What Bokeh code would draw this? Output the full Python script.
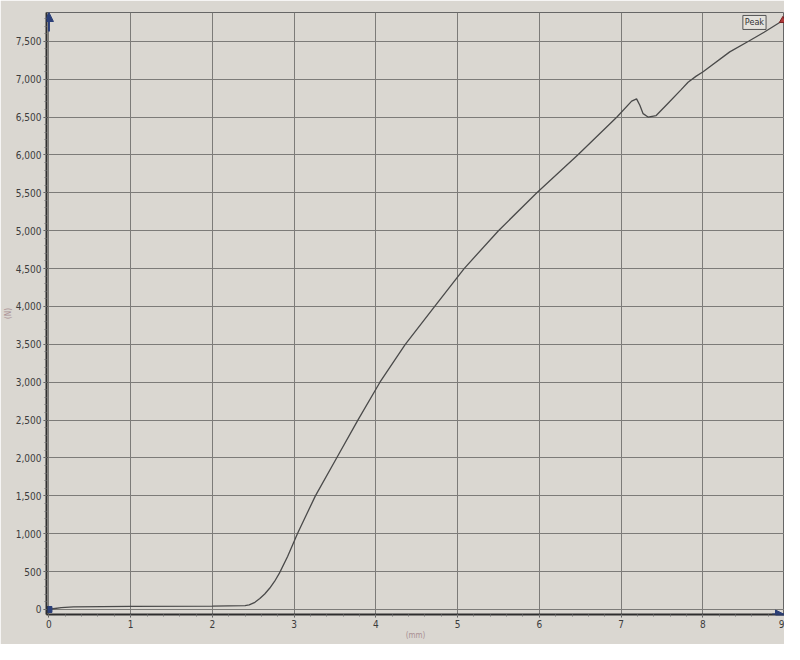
from bokeh.plotting import figure
from bokeh.models import Range1d, NumeralTickFormatter, FixedTicker, Label, Arrow, NormalHead
from bokeh.embed import file_html
from bokeh.resources import INLINE

# Displacement (mm) and force (N)
disp_mm = [0.0, 0.05, 0.15, 0.3, 1.0, 2.0, 2.4, 2.45, 2.52, 2.58, 2.64, 2.7, 2.76,
           2.82, 2.92, 3.04, 3.15, 3.26, 3.52, 3.78, 4.05, 4.36, 4.72, 5.08, 5.50,
           5.97, 6.47, 6.95, 7.13, 7.19, 7.23, 7.27, 7.33, 7.43, 7.57, 7.73, 7.82,
           7.92, 8.0, 8.33, 8.56, 8.75, 8.98]
force_n = [0, 10, 25, 35, 40, 45, 50, 60, 95, 145, 205, 280, 370,
           480, 700, 1000, 1250, 1500, 2000, 2500, 3000, 3500, 4000, 4500, 5000,
           5500, 6000, 6500, 6710, 6740, 6655, 6545, 6500, 6520, 6675, 6855, 6960,
           7040, 7095, 7360, 7500, 7620, 7775]

x_ticks = [0, 1, 2, 3, 4, 5, 6, 7, 8, 9]
y_ticks = [0, 500, 1000, 1500, 2000, 2500, 3000, 3500, 4000, 4500, 5000, 5500,
           6000, 6500, 7000, 7500]
peak_label = "Peak"

PAPER = "#dad7d1"
FONT = "'Liberation Sans Narrow', 'DejaVu Sans Condensed', 'Liberation Sans', sans-serif"

x0, x1 = -0.03, 9.0
y0, y1 = -66, 7880

p = figure(width=784, height=644, x_range=Range1d(x0, x1), y_range=Range1d(y0, y1),
           output_backend="svg", toolbar_location=None,
           min_border_left=36, min_border_right=0, min_border_top=12, min_border_bottom=30,
           background_fill_color=PAPER, border_fill_color=PAPER)

p.outline_line_color = "#666666"
p.outline_line_width = 1

p.xaxis.ticker = FixedTicker(ticks=x_ticks, minor_ticks=[i * 0.2 for i in range(0, 46)])
p.yaxis.ticker = FixedTicker(ticks=y_ticks, minor_ticks=[i * 100 for i in range(0, 79)])
p.yaxis.formatter = NumeralTickFormatter(format="0,0")

for ax in (p.xaxis, p.yaxis):
    ax.axis_line_color = "#2e2e2e"
    ax.axis_line_width = 2
    ax.major_tick_line_color = "#555555"
    ax.minor_tick_line_color = "#777777"
    ax.major_tick_in = 0
    ax.major_tick_out = 3
    ax.minor_tick_in = 0
    ax.minor_tick_out = 2
    ax.major_label_text_font = FONT
    ax.major_label_text_font_size = "10px"
    ax.major_label_text_color = "#3c3c3c"
    ax.major_label_standoff = 2
    ax.axis_label_text_font = FONT
    ax.axis_label_text_font_size = "8px"
    ax.axis_label_text_font_style = "normal"
    ax.axis_label_text_color = "#a98f93"
    ax.axis_label_standoff = 0

p.xaxis.axis_label = "(mm)"
p.yaxis.axis_label = "(N)"

p.xgrid.grid_line_color = "#7c7b78"
p.ygrid.grid_line_color = "#7c7b78"
p.xgrid.grid_line_width = 1
p.ygrid.grid_line_width = 1

p.line(disp_mm, force_n, line_color="#4a4a4a", line_width=1.3)

# peak marker and label
peak_i = len(disp_mm) - 1
p.scatter([disp_mm[peak_i]], [force_n[peak_i]], marker="triangle", size=7,
          fill_color="#b03a3a", line_color="#7a2020")
p.add_layout(Label(x=disp_mm[peak_i], y=force_n[peak_i], text=peak_label,
                   x_offset=-40, y_offset=5, text_baseline="top",
                   text_font=FONT, text_font_size="9px",
                   text_color="#333333", background_fill_color="#e4e2dc",
                   border_line_color="#555555", padding=2))

# start marker at origin
p.scatter([disp_mm[0]], [force_n[0]], marker="square", size=6,
          fill_color="#2b3f78", line_color="#2b3f78")

# axis arrows
p.add_layout(Arrow(end=NormalHead(size=9, fill_color="#2b3f78", line_color="#2b3f78"),
                   x_start=0, y_start=y1 - 250, x_end=0, y_end=y1,
                   line_color="#2b3f78", line_width=2))
p.add_layout(Arrow(end=NormalHead(size=9, fill_color="#2b3f78", line_color="#2b3f78"),
                   x_start=x1 - 0.15, y_start=y0, x_end=x1, y_end=y0,
                   line_color="#2b3f78", line_width=2))

open("out.html", "w").write(file_html(p, INLINE))
